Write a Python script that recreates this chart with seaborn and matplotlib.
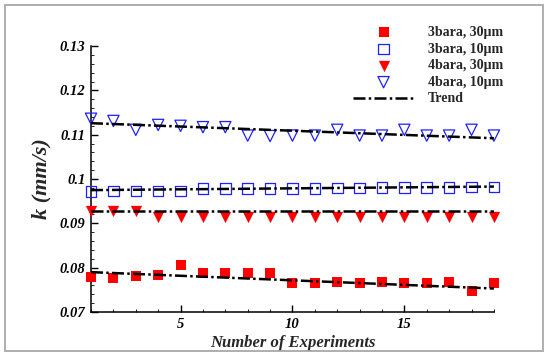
import numpy as np
import pandas as pd
import matplotlib
matplotlib.use("Agg")
import matplotlib.pyplot as plt
from matplotlib.patches import Rectangle
from matplotlib.ticker import MultipleLocator
import seaborn as sns

# ---- data ----
experiments = list(range(1, 20))
k_3bar_30 = [0.0778, 0.0777, 0.0781, 0.0784, 0.0807, 0.0787, 0.0787, 0.0787, 0.0787,
             0.0765, 0.0765, 0.0768, 0.0766, 0.0768, 0.0766, 0.0766, 0.0767, 0.0748, 0.0766]
k_3bar_10 = [0.0972, 0.0973, 0.0973, 0.0973, 0.0973, 0.0978, 0.0978, 0.0978, 0.0978,
             0.0979, 0.0979, 0.0980, 0.0980, 0.0981, 0.0981, 0.0981, 0.0981, 0.0982, 0.0982]
k_4bar_30 = [0.0929, 0.0927, 0.0927, 0.0915, 0.0915, 0.0915, 0.0915, 0.0915, 0.0915,
             0.0915, 0.0915, 0.0915, 0.0915, 0.0915, 0.0915, 0.0914, 0.0914, 0.0914, 0.0914]
k_4bar_10 = [0.1136, 0.1131, 0.1111, 0.1122, 0.1120, 0.1117, 0.1117, 0.1098, 0.1097,
             0.1098, 0.1098, 0.1111, 0.1098, 0.1098, 0.1111, 0.1098, 0.1098, 0.1111, 0.1098]
series_labels = ["3bara, 30\u00b5m", "3bara, 10\u00b5m", "4bara, 30\u00b5m", "4bara, 10\u00b5m"]

trend_x = [1, 19]
trend_3bar_30 = [0.0790, 0.0753]
trend_3bar_10 = [0.0975, 0.0983]
trend_4bar_30 = [0.0927, 0.0927]
trend_4bar_10 = [0.1126, 0.1092]
trend_label = "Trend"

x_ticks = [5, 10, 15]
y_ticks = [0.07, 0.08, 0.09, 0.1, 0.11, 0.12, 0.13]
y_ticklabels = ["0.07", "0.08", "0.09", "0.1", "0.11", "0.12", "0.13"]

# ---- style ----
sns.set_theme(style="ticks")
plt.rcParams["font.family"] = ["Liberation Serif", "DejaVu Serif"]
plt.rcParams["font.weight"] = "bold"
plt.rcParams["mathtext.default"] = "regular"

fig = plt.figure(figsize=(5.5, 3.57), dpi=100)
ax = fig.add_axes([0.1655, 0.126, 0.898 - 0.1655, 0.871 - 0.126])

red = "#ff0000"
blue = "#1f1fff"

series = [k_3bar_30, k_3bar_10, k_4bar_30, k_4bar_10]
styles = [
    dict(marker="s", s=58, color=red, edgecolor=red, linewidth=0),
    dict(marker="s", s=58, color=blue, facecolor="none", edgecolor=blue, linewidth=0.9),
    dict(marker="v", s=66, color=red, edgecolor=red, linewidth=0),
    dict(marker="v", s=66, color=blue, facecolor="none", edgecolor=blue, linewidth=0.9),
]
for vals, lab, st in zip(series, series_labels, styles):
    d = pd.DataFrame({"x": experiments, "k": vals})
    sns.scatterplot(data=d, x="x", y="k", ax=ax, label=lab, zorder=3, clip_on=False, **st)

trends = [trend_3bar_30, trend_3bar_10, trend_4bar_30, trend_4bar_10]
for i, tv in enumerate(trends):
    d = pd.DataFrame({"x": trend_x, "k": tv})
    sns.lineplot(data=d, x="x", y="k", ax=ax, color="black", lw=1.8,
                 linestyle=(0, (4.8, 1.3, 1.0, 1.3)),
                 label=trend_label if i == 0 else None, zorder=4)

handles, labels = ax.get_legend_handles_labels()
if ax.get_legend() is not None:
    ax.get_legend().remove()

ax.set_xlim(1, 19)
ax.set_ylim(0.07, 0.13)
ax.set_xticks(x_ticks)
ax.set_xticklabels([str(t) for t in x_ticks])
ax.set_yticks(y_ticks)
ax.set_yticklabels(y_ticklabels)
ax.xaxis.set_minor_locator(MultipleLocator(1))
ax.yaxis.set_minor_locator(MultipleLocator(0.002))

for sp in ["top", "right"]:
    ax.spines[sp].set_visible(False)
for sp in ["left", "bottom"]:
    ax.spines[sp].set_linewidth(1.1)
    ax.spines[sp].set_color("black")

ax.tick_params(which="major", direction="in", length=5, width=1.0, colors="black",
               labelsize=10.5, pad=4)
ax.tick_params(which="minor", direction="in", length=2.5, width=0.6, colors="black")
ax.tick_params(axis="y", which="both", right=False)
ax.tick_params(axis="x", which="both", top=False)
for lbl in ax.get_xticklabels() + ax.get_yticklabels():
    lbl.set_fontstyle("italic")
    lbl.set_fontweight("bold")

ax.set_xlabel("Number of Experiments", fontsize=12, fontweight="bold", fontstyle="italic",
              labelpad=3)
ax.set_ylabel("k (mm/s)", fontsize=16, fontweight="bold", fontstyle="italic", labelpad=6)

order = series_labels + [trend_label]
hmap = dict(zip(labels, handles))
leg = fig.legend([hmap[l] for l in order], order, loc="upper left",
                 bbox_to_anchor=(353 / 550, 1 - 26 / 357), frameon=False,
                 prop=dict(family="Liberation Serif", weight="bold", size=10),
                 handlelength=4.4, handletextpad=1.0, labelspacing=0.26,
                 borderpad=0, borderaxespad=0)

# grey frame around the figure
fig.patches.append(Rectangle((5 / 550, 1 - 351 / 357), 538 / 550, 346 / 357,
                             transform=fig.transFigure, fill=False,
                             edgecolor="#a8a8a8", linewidth=1.3))

fig.savefig("out.png", dpi=100, facecolor="white")
